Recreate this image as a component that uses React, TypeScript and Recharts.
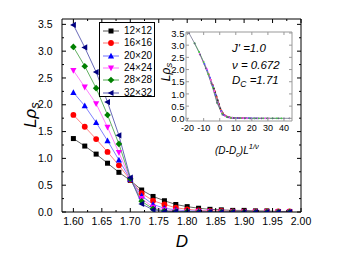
import React from 'react';
import { LineChart, Line, XAxis, YAxis, Legend, CartesianGrid } from 'recharts';

// ---- data ----
const D_VALUES = [1.60, 1.62, 1.64, 1.66, 1.68, 1.70, 1.72, 1.74, 1.76, 1.78, 1.80, 1.82, 1.84, 1.86, 1.88, 1.90, 1.92, 1.94, 1.96, 1.98];
const SIZE_LABELS = ['12×12', '16×16', '20×20', '24×24', '28×28', '32×32'];
const L12 = [1.37, 1.23, 1.08, 0.91, 0.74, 0.59, 0.41, 0.29, 0.21, 0.14, 0.10, 0.07, 0.05, 0.04, 0.03, 0.03, 0.02, 0.02, 0.01, 0.01];
const L16 = [1.81, 1.59, 1.36, 1.12, 0.87, 0.60, 0.35, 0.21, 0.14, 0.08, 0.05, 0.03, 0.02, 0.02, 0.01, 0.01, 0.01, 0.01, 0.01, 0.01];
const L20 = [2.23, 1.98, 1.67, 1.33, 0.97, 0.61, 0.30, 0.14, 0.07, 0.04, 0.02, 0.02, 0.01, 0.01, 0.01, 0.01, 0.01, 0.00, 0.00, 0.00];
const L24 = [2.64, 2.33, 2.02, 1.58, 1.11, 0.61, 0.25, 0.09, 0.04, 0.02, 0.01, 0.01, 0.01, 0.00, 0.00, 0.00, 0.00, 0.00, 0.00, 0.00];
const L28 = [3.08, 2.72, 2.31, 1.81, 1.27, 0.62, 0.20, 0.06, 0.02, 0.01, 0.01, 0.00, 0.00, 0.00, 0.00, 0.00, 0.00, 0.00, 0.00, 0.00];
const L32 = [3.49, 3.07, 2.61, 2.05, 1.43, 0.64, 0.15, 0.04, 0.01, 0.01, 0.00, 0.00, 0.00, 0.00, 0.00, 0.00, 0.00, 0.00, 0.00, 0.00];

const X_MAJOR = [1.60, 1.65, 1.70, 1.75, 1.80, 1.85, 1.90, 1.95, 2.00];
const X_MINOR = [1.625, 1.675, 1.725, 1.775, 1.825, 1.875, 1.925, 1.975];
const Y_MAJOR = [0, 0.5, 1.0, 1.5, 2.0, 2.5, 3.0, 3.5];
const Y_MINOR = [0.25, 0.75, 1.25, 1.75, 2.25, 2.75, 3.25];

// inset (data collapse) x values, per lattice size
const IX12 = [-4.4, -3.6, -2.8, -2.0, -1.2, -0.4, 0.4, 1.2, 2.0, 2.8, 3.6, 4.4, 5.2, 6.1, 6.9, 7.7, 8.5, 9.3, 10.1, 10.9];
const IX16 = [-6.8, -5.6, -4.3, -3.1, -1.9, -0.6, 0.6, 1.9, 3.1, 4.3, 5.6, 6.8, 8.0, 9.3, 10.5, 11.8, 13.0, 14.2, 15.5, 16.7];
const IX20 = [-9.5, -7.8, -6.0, -4.3, -2.6, -0.9, 0.9, 2.6, 4.3, 6.0, 7.8, 9.5, 11.2, 12.9, 14.7, 16.4, 18.1, 19.8, 21.6, 23.3];
const IX24 = [-12.5, -10.2, -7.9, -5.7, -3.4, -1.1, 1.1, 3.4, 5.7, 7.9, 10.2, 12.5, 14.7, 17.0, 19.2, 21.5, 23.8, 26.0, 28.3, 30.6];
const IX28 = [-15.7, -12.8, -10.0, -7.1, -4.3, -1.4, 1.4, 4.3, 7.1, 10.0, 12.8, 15.7, 18.5, 21.4, 24.2, 27.1, 29.9, 32.8, 35.6, 38.5];
const IX32 = [-19.1, -15.6, -12.2, -8.7, -5.2, -1.7, 1.7, 5.2, 8.7, 12.2, 15.6, 19.1, 22.6, 26.1, 29.5, 33.0, 36.5, 40.0, 43.4];
const IX_TICKS = [-20, -10, 0, 10, 20, 30, 40];
const IY_TICKS = [0, 0.5, 1.0, 1.5, 2.0, 2.5, 3.0, 3.5];

// ---- styles ----
const FONT = '"Liberation Sans", Arial, sans-serif';
const MARKER_COLORS = ['#000000', '#ff0000', '#0000ff', '#ff00ff', '#008000', '#000080'];
const LINE_COLORS = ['#555555', '#ff7070', '#7070ff', '#ff70ff', '#50a850', '#5858b0'];
const INSET_COLORS = ['#333333', '#ff5050', '#5050ff', '#ff50ff', '#40d040', '#606080'];
const SHAPES = ['square', 'circle', 'up', 'down', 'diamond', 'left'];

const SERIES = [L12, L16, L20, L24, L28, L32];
const INSET_X = [IX12, IX16, IX20, IX24, IX28, IX32];
const KEYS = ['s12', 's16', 's20', 's24', 's28', 's32'];

const mainData = D_VALUES.map((d, i) => {
  const row: any = { D: d };
  KEYS.forEach((k, j) => { row[k] = SERIES[j][i]; });
  return row;
});

const insetData = INSET_X.map((xs, j) => xs.map((x, i) => ({ x, y: SERIES[j][i] })));

function Marker({ shape, cx, cy, color }: any) {
  if (cx == null || cy == null) return null;
  const h = 2.5;
  switch (shape) {
    case 'square':
      return <rect x={cx - h} y={cy - h} width={2 * h} height={2 * h} fill={color} />;
    case 'circle':
      return <circle cx={cx} cy={cy} r={h + 0.4} fill={color} />;
    case 'up':
      return <polygon points={`${cx},${cy - h - 0.8} ${cx - h - 0.6},${cy + h} ${cx + h + 0.6},${cy + h}`} fill={color} />;
    case 'down':
      return <polygon points={`${cx},${cy + h + 0.8} ${cx - h - 0.6},${cy - h} ${cx + h + 0.6},${cy - h}`} fill={color} />;
    case 'diamond':
      return <polygon points={`${cx},${cy - h - 0.8} ${cx + h + 0.8},${cy} ${cx},${cy + h + 0.8} ${cx - h - 0.8},${cy}`} fill={color} />;
    case 'left':
    default:
      return <polygon points={`${cx - h - 0.8},${cy} ${cx + h},${cy - h - 0.6} ${cx + h},${cy + h + 0.6}`} fill={color} />;
  }
}

const makeDot = (shape: string, color: string) => (props: any) => (
  <Marker key={`d-${props.index}`} shape={shape} cx={props.cx} cy={props.cy} color={color} />
);

const isIn = (arr: number[], v: number) => arr.some((m) => Math.abs(m - v) < 1e-6);

const makeTick = (orient: string, majors: number[], fmt: ((v: number) => string) | null, opts: any = {}) => (props: any) => {
  const { x, y, payload } = props;
  const v = payload.value;
  const major = isIn(majors, v);
  const len = major ? (opts.major ?? 4) : (opts.minor ?? 2);
  const stroke = opts.stroke ?? '#000';
  const fs = opts.fontSize ?? 10.5;
  let line = null;
  let label = null;
  if (orient === 'bottom') {
    line = <line x1={x} y1={y} x2={x} y2={y - len} stroke={stroke} strokeWidth={1} />;
    if (fmt && major) label = <text x={x} y={y + (opts.gap ?? 12.7)} textAnchor="middle" fontSize={fs} fontFamily={FONT} fill="#000">{fmt(v)}</text>;
  } else if (orient === 'top') {
    line = <line x1={x} y1={y} x2={x} y2={y + len} stroke={stroke} strokeWidth={1} />;
  } else if (orient === 'left') {
    line = <line x1={x} y1={y} x2={x + len} y2={y} stroke={stroke} strokeWidth={1} />;
    if (fmt && major) label = <text x={x - (opts.gap ?? 9.5)} y={y + 3.7} textAnchor="end" fontSize={fs} fontFamily={FONT} fill="#000">{fmt(v)}</text>;
  } else {
    line = <line x1={x} y1={y} x2={x - len} y2={y} stroke={stroke} strokeWidth={1} />;
  }
  return <g>{line}{label}</g>;
};

const X_ALL = [...X_MAJOR, ...X_MINOR].sort((a, b) => a - b);
const Y_ALL = [...Y_MAJOR, ...Y_MINOR].sort((a, b) => a - b);

function LegendBox() {
  return (
    <div style={{ width: 56, height: 75, border: '1px solid #000', background: '#fff', boxSizing: 'border-box', fontFamily: FONT, fontSize: 10, paddingTop: 2 }}>
      {SIZE_LABELS.map((name, j) => (
        <div key={name} style={{ display: 'flex', alignItems: 'center', height: 12.3, whiteSpace: 'nowrap' }}>
          <svg width={22} height={12} style={{ flex: 'none' }}>
            <line x1={3} y1={6} x2={19} y2={6} stroke={LINE_COLORS[j]} strokeWidth={1} />
            <Marker shape={SHAPES[j]} cx={11} cy={6} color={MARKER_COLORS[j]} />
          </svg>
          <span style={{ marginLeft: 2, lineHeight: '12px', color: '#000' }}>{name}</span>
        </div>
      ))}
    </div>
  );
}

export default function App() {
  return (
    <div style={{ position: 'absolute', left: 0, top: 0, width: 349, height: 258, background: '#fff', overflow: 'hidden' }}>
      {/* main chart */}
      <div style={{ position: 'absolute', left: 0, top: 0 }}>
        <LineChart width={349} height={258} data={mainData} margin={{ top: 18, right: 47, bottom: 45, left: 0 }}>
          <XAxis xAxisId="b" dataKey="D" type="number" domain={[1.58, 2.0]} ticks={X_ALL} interval={0}
            orientation="bottom" height={1} tickSize={0} tickMargin={0} tickLine={false}
            axisLine={{ stroke: '#000', strokeWidth: 1 }} allowDataOverflow
            tick={makeTick('bottom', X_MAJOR, (v) => v.toFixed(2))} />
          <XAxis xAxisId="t" dataKey="D" type="number" domain={[1.58, 2.0]} ticks={X_ALL} interval={0}
            orientation="top" height={1} tickSize={0} tickMargin={0} tickLine={false}
            axisLine={{ stroke: '#000', strokeWidth: 1 }} allowDataOverflow
            tick={makeTick('top', X_MAJOR, null)} />
          <YAxis yAxisId="l" type="number" domain={[0, 3.6]} ticks={Y_ALL} interval={0}
            orientation="left" width={62} tickSize={0} tickMargin={0} tickLine={false}
            axisLine={{ stroke: '#000', strokeWidth: 1 }} allowDataOverflow
            tick={makeTick('left', Y_MAJOR, (v) => v.toFixed(1))} />
          <YAxis yAxisId="r" type="number" domain={[0, 3.6]} ticks={Y_ALL} interval={0}
            orientation="right" width={1} tickSize={0} tickMargin={0} tickLine={false}
            axisLine={{ stroke: '#000', strokeWidth: 1 }} allowDataOverflow
            tick={makeTick('right', Y_MAJOR, null)} />
          {KEYS.map((k, j) => (
            <Line key={k} xAxisId="b" yAxisId="l" dataKey={k} name={SIZE_LABELS[j]} type="linear"
              stroke={LINE_COLORS[j]} strokeWidth={0.9} isAnimationActive={false}
              dot={makeDot(SHAPES[j], MARKER_COLORS[j])} activeDot={false} />
          ))}
          <Legend layout="horizontal" verticalAlign="middle" align="center" content={() => <LegendBox />}
            wrapperStyle={{ position: 'absolute', left: 99, top: 22, width: 56, height: 75 }} />
        </LineChart>
      </div>

      {/* inset chart */}
      <div style={{ position: 'absolute', left: 150, top: 20 }}>
        <LineChart width={150} height={146} margin={{ top: 11, right: 7, bottom: 44, left: 0 }}>
          <CartesianGrid xAxisId="ib" yAxisId="il" fill="#ffffff" horizontal={false} vertical={false} />
          <XAxis xAxisId="ib" dataKey="x" type="number" domain={[-21, 45]} ticks={IX_TICKS} interval={0}
            orientation="bottom" height={1} tickSize={0} tickMargin={0} tickLine={false}
            axisLine={{ stroke: '#999', strokeWidth: 1 }} allowDataOverflow
            tick={makeTick('bottom', IX_TICKS, (v) => String(v), { stroke: '#999', major: 3, fontSize: 9, gap: 10 })} />
          <XAxis xAxisId="it" dataKey="x" type="number" domain={[-21, 45]} ticks={IX_TICKS} interval={0}
            orientation="top" height={1} tickSize={0} tickMargin={0} tickLine={false}
            axisLine={{ stroke: '#999', strokeWidth: 1 }} allowDataOverflow
            tick={makeTick('top', IX_TICKS, null, { stroke: '#999', major: 3 })} />
          <YAxis yAxisId="il" type="number" domain={[-0.11, 3.54]} ticks={IY_TICKS} interval={0}
            orientation="left" width={36} tickSize={0} tickMargin={0} tickLine={false}
            axisLine={{ stroke: '#999', strokeWidth: 1 }} allowDataOverflow
            tick={makeTick('left', IY_TICKS, (v) => v.toFixed(1), { stroke: '#999', major: 3, fontSize: 9.5, gap: 1.5 })} />
          <YAxis yAxisId="ir" type="number" domain={[-0.11, 3.54]} ticks={IY_TICKS} interval={0}
            orientation="right" width={1} tickSize={0} tickMargin={0} tickLine={false}
            axisLine={{ stroke: '#999', strokeWidth: 1 }} allowDataOverflow
            tick={makeTick('right', IY_TICKS, null, { stroke: '#999', major: 3 })} />
          {insetData.map((pts, j) => (
            <Line key={`i${j}`} xAxisId="ib" yAxisId="il" data={pts} dataKey="y" type="linear"
              stroke={INSET_COLORS[j]} strokeWidth={0.7} isAnimationActive={false}
              dot={{ r: 0.9, fill: INSET_COLORS[j], stroke: 'none' }} activeDot={false} />
          ))}
        </LineChart>
      </div>

      {/* axis titles & annotations */}
      <svg width={349} height={258} style={{ position: 'absolute', left: 0, top: 0, pointerEvents: 'none' }} fontFamily={FONT}>
        <text transform="translate(36,115) rotate(-90)" textAnchor="middle" fontSize={17} fontStyle="italic" fill="#000">
          Lρ<tspan fontSize={13} dy={3}>s</tspan>
        </text>
        <text x={182} y={247} textAnchor="middle" fontSize={17} fontStyle="italic" fill="#000">D</text>

        <text transform="translate(170,72) rotate(-90)" textAnchor="middle" fontSize={12} fontStyle="italic" fill="#000">
          Lρ<tspan fontSize={9.5} dy={2}>s</tspan>
        </text>
        <text x={215} y={154} fontSize={10} fontStyle="italic" fill="#000">
          (D-D<tspan fontSize={7.5} dy={3}>c</tspan><tspan dy={-3}>)L</tspan><tspan fontSize={7.5} dy={-5}>1/ν</tspan>
        </text>

        <text x={232} y={52} fontSize={11.5} fontStyle="italic" fill="#000">J' =1.0</text>
        <text x={232} y={68.5} fontSize={11.5} fontStyle="italic" fill="#000">ν = 0.672</text>
        <text x={232} y={84} fontSize={11.5} fontStyle="italic" fill="#000">
          D<tspan fontSize={8.5} dy={3}>C</tspan><tspan dy={-3}> =1.71</tspan>
        </text>
      </svg>
    </div>
  );
}
